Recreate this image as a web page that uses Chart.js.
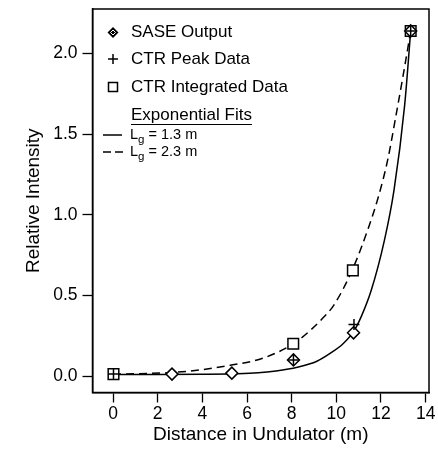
<!DOCTYPE html>
<html><head><meta charset="utf-8">
<script src="https://cdn.jsdelivr.net/npm/chart.js@4/dist/chart.umd.min.js"></script>
<style>html,body{margin:0;padding:0;background:#fff}</style>
</head><body>
<canvas id="c" width="438" height="449" style="display:block;width:438px;height:449px"></canvas>
<script>
// ---- data ----
const xTicks = [0, 2, 4, 6, 8, 10, 12, 14];
const yTicks = [0.0, 0.5, 1.0, 1.5, 2.0];

const saseX = [2.64, 5.32, 8.08, 10.77, 13.33];
const saseY = [0.012, 0.018, 0.100, 0.268, 2.14];

const peakX = [0.02, 8.08, 10.79, 13.33];
const peakY = [0.012, 0.100, 0.320, 2.14];

const integX = [0.02, 8.07, 10.74, 13.33];
const integY = [0.012, 0.200, 0.655, 2.14];

// exponential fit curves
const fit13X = [0, 2, 4, 5.5, 6.5, 7.3, 8.25, 9.13, 9.72, 10.3, 10.77, 11.12, 11.56, 12.15, 12.58, 13.06, 13.33];
const fit13Y = [0.010, 0.010, 0.011, 0.014, 0.020, 0.032, 0.055, 0.092, 0.140, 0.200, 0.275, 0.370, 0.530, 0.840, 1.150, 1.680, 2.14];

const fit23X = [0, 1.5, 2.65, 4, 5.3, 6.7, 8.07, 8.85, 9.45, 9.89, 10.72, 11.44, 11.88, 12.3, 12.69, 13.0, 13.33];
const fit23Y = [0.012, 0.016, 0.022, 0.040, 0.068, 0.110, 0.200, 0.285, 0.367, 0.440, 0.660, 0.920, 1.110, 1.340, 1.630, 1.870, 2.14];

const legendLabels = ['SASE Output', 'CTR Peak Data', 'CTR Integrated Data'];
const fitsTitle = 'Exponential Fits';
const fitLabels = [['L', 'g', ' = 1.3 m'], ['L', 'g', ' = 2.3 m']];
const xTitle = 'Distance in Undulator (m)';
const yTitle = 'Relative Intensity';

const pts = (xs, ys) => xs.map((x, i) => ({x: x, y: ys[i]}));
const FONT = "'Liberation Sans', Arial, Helvetica, sans-serif";

const framePlugin = {
  id: 'frame',
  afterDraw(chart) {
    const {ctx, chartArea: a} = chart;
    ctx.save();
    ctx.strokeStyle = '#000';
    ctx.lineWidth = 1.5;
    ctx.strokeRect(a.left, a.top, a.right - a.left, a.bottom - a.top);

    // legend
    ctx.fillStyle = '#000';
    ctx.textBaseline = 'middle';
    ctx.textAlign = 'left';
    ctx.font = '17px ' + FONT;
    const mx = 113, tx = 131;
    const rows = [32.5, 59, 87];
    let y = rows[0];
    ctx.beginPath();
    ctx.moveTo(mx - 5.5, y); ctx.lineTo(mx, y - 5.5); ctx.lineTo(mx + 5.5, y); ctx.lineTo(mx, y + 5.5); ctx.closePath();
    ctx.fill();
    ctx.strokeStyle = '#fff'; ctx.lineWidth = 1;
    ctx.beginPath();
    ctx.moveTo(mx - 2.5, y); ctx.lineTo(mx, y - 2.5); ctx.lineTo(mx + 2.5, y); ctx.lineTo(mx, y + 2.5); ctx.closePath();
    ctx.stroke();
    ctx.strokeStyle = '#000'; ctx.lineWidth = 1.5;
    y = rows[1];
    ctx.beginPath();
    ctx.moveTo(mx - 5, y); ctx.lineTo(mx + 5, y); ctx.moveTo(mx, y - 5); ctx.lineTo(mx, y + 5);
    ctx.stroke();
    y = rows[2];
    ctx.strokeRect(mx - 4.5, y - 4.5, 9, 9);
    legendLabels.forEach((t, i) => ctx.fillText(t, tx, rows[i]));

    ctx.fillText(fitsTitle, tx, 115);
    const w = ctx.measureText(fitsTitle).width;
    ctx.lineWidth = 1.2;
    ctx.beginPath(); ctx.moveTo(tx, 124.5); ctx.lineTo(tx + w, 124.5); ctx.stroke();

    const fy = [135, 152];
    ctx.lineWidth = 1.5;
    ctx.beginPath(); ctx.moveTo(103, fy[0]); ctx.lineTo(122, fy[0]); ctx.stroke();
    ctx.setLineDash([8, 4]);
    ctx.beginPath(); ctx.moveTo(103, fy[1]); ctx.lineTo(124, fy[1]); ctx.stroke();
    ctx.setLineDash([]);
    fitLabels.forEach((parts, i) => {
      let x = 130;
      ctx.font = '14.5px ' + FONT;
      ctx.fillText(parts[0], x, fy[i]);
      x += ctx.measureText(parts[0]).width;
      ctx.font = '11.5px ' + FONT;
      ctx.fillText(parts[1], x, fy[i] + 5);
      x += ctx.measureText(parts[1]).width;
      ctx.font = '14.5px ' + FONT;
      ctx.fillText(parts[2], x, fy[i]);
    });
    ctx.restore();
  }
};

new Chart(document.getElementById('c'), {
  type: 'scatter',
  data: {
    datasets: [
      {label: 'CTR Peak Data', data: pts(peakX, peakY), pointStyle: 'cross', pointRadius: 5.5,
       borderColor: '#000', pointBorderWidth: 1.5, showLine: false},
      {label: 'SASE Output', data: pts(saseX, saseY), pointStyle: 'rectRot', pointRadius: 6,
       borderColor: '#000', backgroundColor: '#fff', pointBorderWidth: 1.5, showLine: false},
      {label: 'CTR Integrated Data', data: pts(integX, integY), pointStyle: 'rect', pointRadius: 7.5,
       borderColor: '#000', backgroundColor: '#fff', pointBorderWidth: 1.5, showLine: false},
      {label: 'Lg = 1.3 m', data: pts(fit13X, fit13Y), showLine: true, pointRadius: 0,
       borderColor: '#000', borderWidth: 1.5, cubicInterpolationMode: 'monotone'},
      {label: 'Lg = 2.3 m', data: pts(fit23X, fit23Y), showLine: true, pointRadius: 0,
       borderColor: '#000', borderWidth: 1.5, borderDash: [8, 5], cubicInterpolationMode: 'monotone'}
    ]
  },
  options: {
    responsive: false,
    animation: false,
    devicePixelRatio: 1,
    layout: {padding: {top: 8, right: 5, left: 0, bottom: 0}},
    plugins: {legend: {display: false}, tooltip: {enabled: false}},
    scales: {
      x: {
        type: 'linear', min: -0.92, max: 14.15,
        afterBuildTicks: ax => { ax.ticks = xTicks.map(v => ({value: v})); },
        afterFit: ax => { ax.height = 56.5; ax.paddingLeft = 0; ax.paddingRight = 0; },
        grid: {drawOnChartArea: false, drawTicks: true, tickLength: 10, tickWidth: 1.3, tickColor: '#000'},
        border: {display: true, color: '#000', width: 1.5},
        ticks: {color: '#000', padding: 1, font: {family: FONT, size: 17.5}, maxRotation: 0,
                callback: v => String(v)},
        title: {display: true, text: xTitle, color: '#000', font: {family: FONT, size: 19},
                padding: {top: 0, bottom: 3}}
      },
      y: {
        type: 'linear', min: -0.102, max: 2.276,
        afterBuildTicks: ax => { ax.ticks = yTicks.map(v => ({value: v})); },
        afterFit: ax => { ax.width = 92.5; ax.paddingTop = 0; ax.paddingBottom = 0; },
        grid: {drawOnChartArea: false, drawTicks: true, tickLength: 10, tickWidth: 1.3, tickColor: '#000'},
        border: {display: true, color: '#000', width: 1.5},
        ticks: {color: '#000', padding: 5, font: {family: FONT, size: 17.5},
                callback: v => Number(v).toFixed(1)},
        title: {display: true, text: yTitle, color: '#000', font: {family: FONT, size: 19},
                padding: {top: 22, bottom: 0}}
      }
    }
  },
  plugins: [framePlugin]
});
</script>
</body></html>
